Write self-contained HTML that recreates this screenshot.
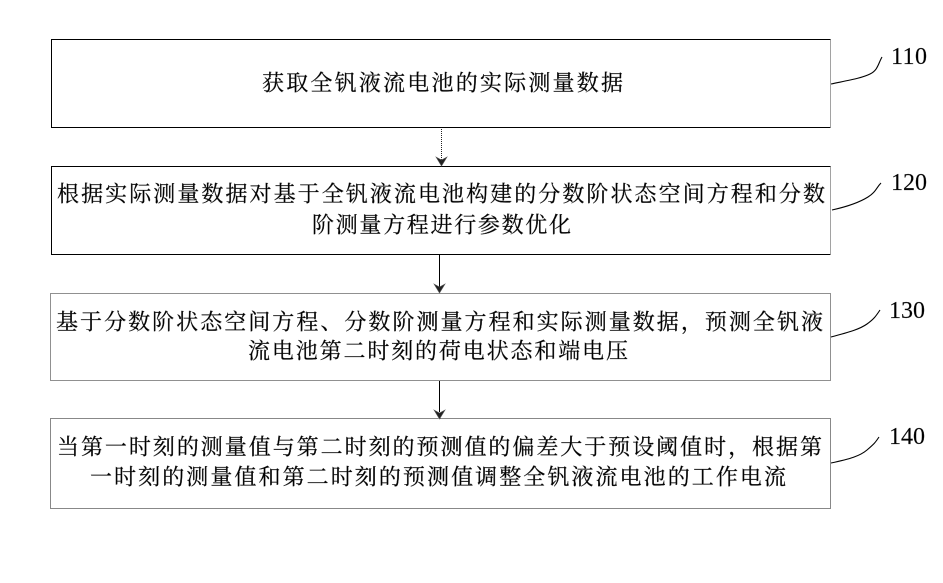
<!DOCTYPE html>
<html><head><meta charset="utf-8"><style>
html,body{margin:0;padding:0;background:#fff;width:943px;height:583px;overflow:hidden}
svg{display:block}
.t{font-family:"Liberation Serif","Noto Serif CJK SC",serif;font-size:22px;fill:#000;stroke:#333;stroke-width:.3px;dominant-baseline:central}
.n{font-family:"Liberation Serif",serif;font-size:24px;fill:#000;stroke:#444;stroke-width:.2px;dominant-baseline:central}
</style></head><body>
<svg width="943" height="583" viewBox="0 0 943 583" xmlns="http://www.w3.org/2000/svg">
<rect width="943" height="583" fill="#fff"/>
<g fill="none" stroke="#000" stroke-width="1">
<path d="M830.5 39.5H51.5V127.5H830.5"/>
<path d="M830.5 166.5H51.5V254.5H830.5"/>
<path d="M830.5 39.5V127.5M830.5 166.5V254.5" stroke="#444" stroke-dasharray="1 1"/>
<rect x="50.5" y="293.5" width="780" height="87" stroke="#222" stroke-dasharray="1 1"/>
<rect x="50.5" y="418.5" width="780" height="90" stroke="#111" stroke-dasharray="1 1"/>
<path d="M441.5 129V160" stroke="#222" stroke-dasharray="1 1"/>
<path d="M439.5 255V287M439.5 381V412"/>
<path d="M831 84C850 80 862 78 870 74S878 64 882 57M832 210C850 206 860 202 868 197S876 188 881 183M831 337C850 332 860 329 867 324S876 316 880 310M831 463C850 459 860 456 867 450S875 443 879 437" stroke-width="1.1"/>
</g>
<g fill="#222" stroke="#555" stroke-width=".6">
<path d="M436 157L441.5 166L447 157L441.5 160Z"/>
<path d="M434 284L439.5 293L445 284L439.5 287Z"/>
<path d="M434 410L439.5 419L445 410L439.5 413Z"/>
</g>
<text class="t" x="262" y="83" textLength="361">获取全钒液流电池的实际测量数据</text>
<text class="t" x="57" y="194" textLength="768">根据实际测量数据对基于全钒液流电池构建的分数阶状态空间方程和分数</text>
<text class="t" x="312" y="225" textLength="259">阶测量方程进行参数优化</text>
<text class="t" x="56" y="322" textLength="767">基于分数阶状态空间方程、分数阶测量方程和实际测量数据，预测全钒液</text>
<text class="t" x="248" y="351" textLength="380">流电池第二时刻的荷电状态和端电压</text>
<text class="t" x="57" y="447" textLength="765">当第一时刻的测量值与第二时刻的预测值的偏差大于预设阈值时，根据第</text>
<text class="t" x="90" y="477" textLength="696">一时刻的测量值和第二时刻的预测值调整全钒液流电池的工作电流</text>
<text class="n" x="891" y="57" textLength="36">110</text>
<text class="n" x="891" y="183" textLength="36">120</text>
<text class="n" x="889" y="311" textLength="36">130</text>
<text class="n" x="889" y="437" textLength="36">140</text>
</svg>
</body></html>
